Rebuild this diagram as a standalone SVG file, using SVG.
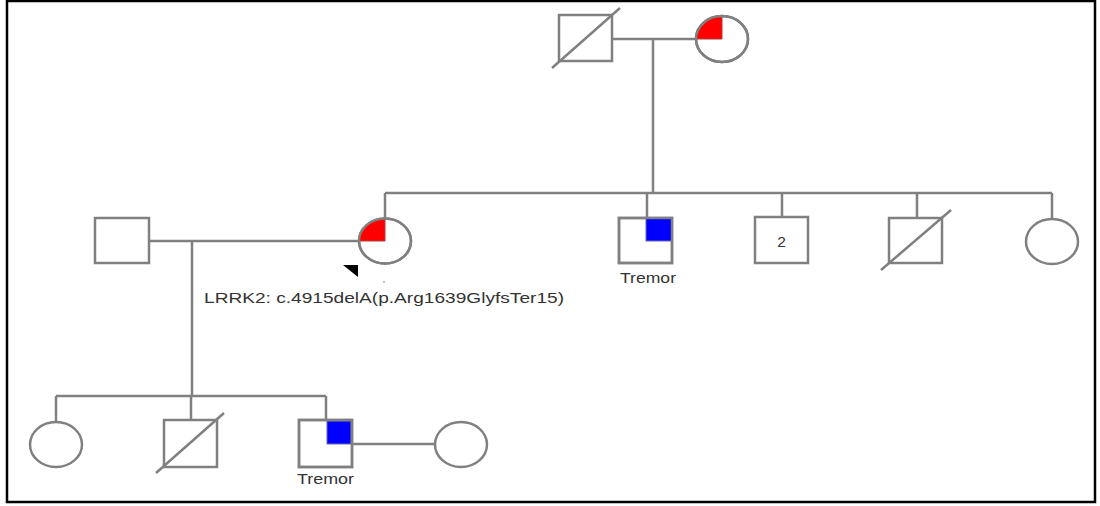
<svg xmlns="http://www.w3.org/2000/svg" width="1100" height="506" viewBox="0 0 1100 506">
<style>
.ln{stroke:#808080;stroke-width:2.5;fill:none}
.sh{stroke:#808080;stroke-width:2.5;fill:#ffffff}
.red{fill:#ff0000;stroke:#b03a3a;stroke-width:1}
.blue{fill:#0000ff;stroke:#6a6ab0;stroke-width:1}
.t{font-family:"Liberation Sans",Arial,sans-serif;fill:#333333}
</style>
<rect x="0" y="0" width="1100" height="506" fill="#ffffff"/>
<rect x="7" y="1" width="1088" height="501" fill="none" stroke="#000000" stroke-width="2.5"/>
<g id="connectors">
<path class="ln" d="M612,39 H696 M653,39 V193 M385,193 H1052 M385,193 V219 M647,193 V218 M782,193 V217 M917,193 V218 M1052,193 V219"/>
<path class="ln" d="M149,241 H359 M192,241 V396 M56,396 H326 M56,396 V422 M191,396 V420 M326,396 V420 M352,444 H435"/>
</g>
<g id="grandfather">
<rect class="sh" x="559" y="15" width="53" height="46"/>
<line class="ln" x1="552" y1="68" x2="620" y2="8"/>
</g>
<g id="grandmother">
<ellipse class="sh" cx="722" cy="39" rx="26" ry="23"/>
<path class="red" d="M722,39 L696,39 A26,23 0 0 1 722,16 Z"/>
<ellipse class="ln" cx="722" cy="39" rx="26" ry="23"/>
</g>
<g id="father">
<rect class="sh" x="95" y="218" width="54" height="45"/>
</g>
<g id="mother">
<ellipse class="sh" cx="385" cy="241" rx="26" ry="22.5"/>
<path class="red" d="M385,241 L359,241 A26,22.5 0 0 1 385,218.5 Z"/>
<ellipse class="ln" cx="385" cy="241" rx="26" ry="22.5"/>
<polygon points="343,265 358,265 358,277" fill="#000000"/>
<circle cx="384" cy="282" r="0.8" fill="#808080"/>
<text class="t" x="204" y="303" font-size="14.5" textLength="360" lengthAdjust="spacingAndGlyphs">LRRK2: c.4915delA(p.Arg1639GlyfsTer15)</text>
</g>
<g id="uncle-tremor">
<rect class="sh" x="619" y="218" width="53" height="45"/>
<rect class="blue" x="646" y="218" width="26" height="23"/>
<rect class="ln" x="619" y="218" width="53" height="45"/>
<text class="t" x="620" y="283" font-size="15" textLength="56" lengthAdjust="spacingAndGlyphs">Tremor</text>
</g>
<g id="uncles-2">
<rect class="sh" x="755" y="217" width="53" height="46"/>
<text class="t" x="781.5" y="247" font-size="15.5" text-anchor="middle">2</text>
</g>
<g id="uncle-deceased">
<rect class="sh" x="889" y="218" width="53" height="45"/>
<line class="ln" x1="881" y1="270" x2="951" y2="210"/>
</g>
<g id="aunt">
<ellipse class="sh" cx="1052" cy="241.5" rx="26" ry="22.5"/>
</g>
<g id="child-1">
<ellipse class="sh" cx="56" cy="444.5" rx="26" ry="22.5"/>
</g>
<g id="child-2-deceased">
<rect class="sh" x="164" y="420" width="53" height="47"/>
<line class="ln" x1="156" y1="473" x2="224" y2="413"/>
</g>
<g id="proband-tremor">
<rect class="sh" x="299" y="420" width="53" height="47"/>
<rect class="blue" x="327" y="421" width="24" height="23"/>
<rect class="ln" x="299" y="420" width="53" height="47"/>
<text class="t" x="297" y="484" font-size="15" textLength="57" lengthAdjust="spacingAndGlyphs">Tremor</text>
</g>
<g id="spouse">
<ellipse class="sh" cx="461" cy="444.5" rx="26" ry="22.5"/>
</g>
</svg>
